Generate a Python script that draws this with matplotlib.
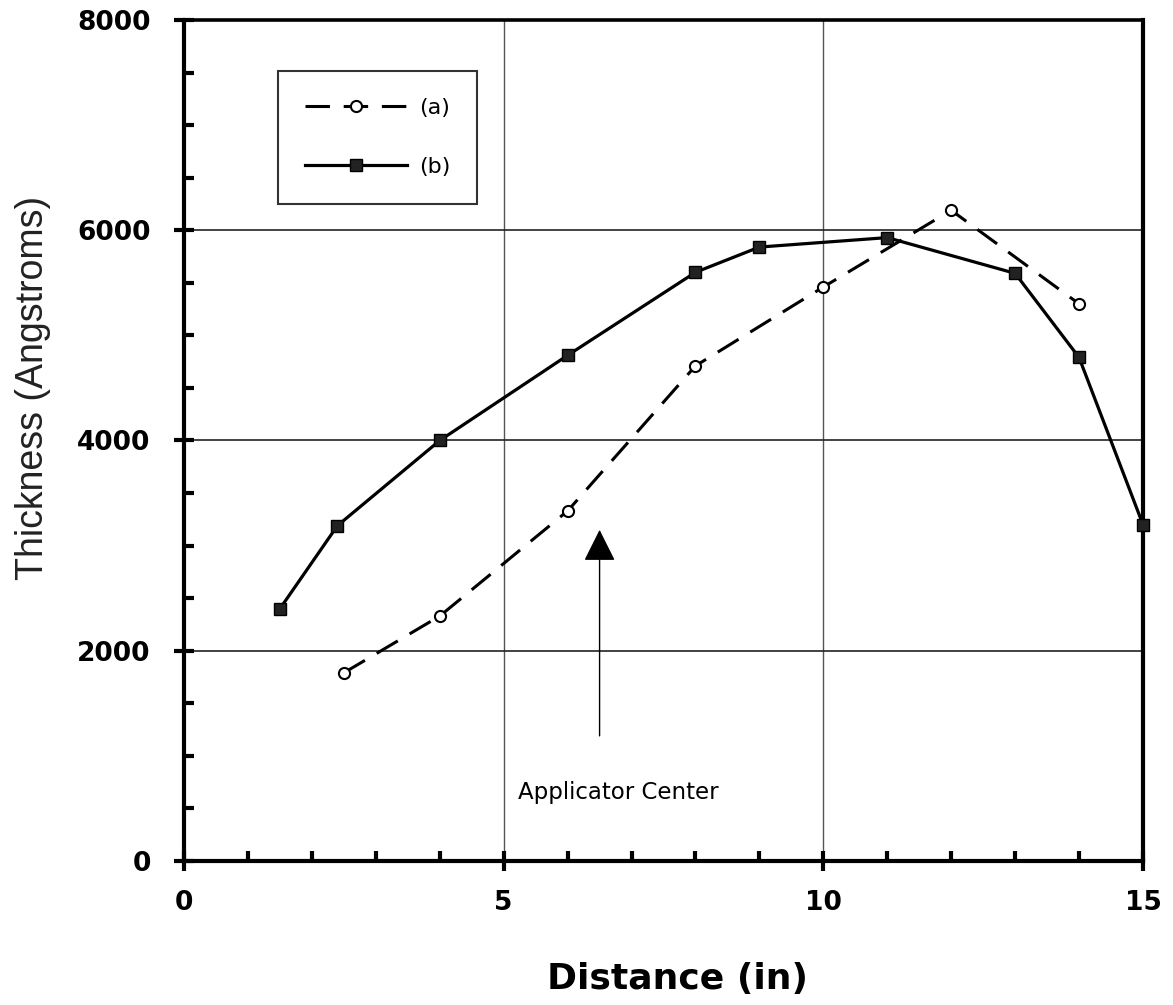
import matplotlib
matplotlib.use("Agg")
import matplotlib.pyplot as plt
from matplotlib.ticker import MultipleLocator


# Data
dist_a = [2.5, 4, 6, 8, 10, 12, 14]
thick_a = [1790, 2330, 3330, 4710, 5460, 6190, 5300]

dist_b = [1.5, 2.4, 4, 6, 8, 9, 11, 13, 14, 15]
thick_b = [2400, 3190, 4000, 4810, 5600, 5840, 5930, 5590, 4790, 3200]

x_ticks = [0, 5, 10, 15]
y_ticks = [0, 2000, 4000, 6000, 8000]

# applicator center marker
center_x = 6.5
arrow_tip = 3150
arrow_tail = 1190


fig = plt.figure(figsize=(11.73, 10.05), dpi=100)
ax = fig.add_axes([0.1569, 0.1433, 0.8175, 0.8368])

ax.set_xlim(0, 15)
ax.set_ylim(0, 8000)

# grid lines
for gx in x_ticks[1:-1]:
    ax.axvline(gx, color="#555555", lw=1.0, zorder=1)
for gy in y_ticks[1:-1]:
    ax.axhline(gy, color="#222222", lw=1.2, zorder=1)

ax.plot(dist_a, thick_a, color="black", lw=2.2, linestyle=(0, (8, 4.5)),
        marker="o", markersize=8, markerfacecolor="white", markeredgecolor="black",
        markeredgewidth=1.5, label="(a)", zorder=3)
ax.plot(dist_b, thick_b, color="black", lw=2.3, linestyle="-",
        marker="s", markersize=9, markerfacecolor="#222222", markeredgecolor="black",
        label="(b)", zorder=4, clip_on=False)

# applicator center arrow
ax.annotate("", xy=(center_x, arrow_tip), xytext=(center_x, arrow_tail),
            arrowprops=dict(arrowstyle="-|>,head_length=1.0,head_width=0.5",
                            color="black", lw=1.0, mutation_scale=20,
                            shrinkA=0, shrinkB=0), zorder=3)
ax.text(center_x + 0.3, 648, "Applicator Center", fontsize=16.5, ha="center",
        va="center", family="DejaVu Sans")

# spines and ticks
for s in ax.spines.values():
    s.set_linewidth(3.0)
    s.set_color("black")
ax.spines["top"].set_linewidth(2.6)

ax.set_xticks(x_ticks)
ax.set_yticks(y_ticks)
ax.xaxis.set_minor_locator(MultipleLocator(1))
ax.yaxis.set_minor_locator(MultipleLocator(500))
ax.tick_params(which="major", direction="inout", length=14, width=3)
ax.tick_params(which="minor", direction="in", length=7, width=3)
ax.tick_params(axis="x", which="major", pad=14)
ax.tick_params(axis="y", which="major", pad=17)
for lab in ax.get_xticklabels() + ax.get_yticklabels():
    lab.set_fontsize(19)
    lab.set_fontweight("bold")
    lab.set_family("DejaVu Sans")

ax.set_xlabel("Distance (in)", fontsize=26, fontweight="bold",
              family="DejaVu Sans")
ax.xaxis.set_label_coords(0.515, -0.12)
fig.text(0.028, 0.614, "Thickness (Angstroms)", rotation=90, fontsize=27,
         ha="center", va="center", color="#222222", family="Liberation Sans")

leg = ax.legend(loc="upper left", bbox_to_anchor=(0.098, 0.939), frameon=True,
                fancybox=False, edgecolor="black", fontsize=16,
                handlelength=4.6, numpoints=1, borderpad=1.2, labelspacing=1.75,
                handletextpad=0.55, borderaxespad=0)
leg.get_frame().set_linewidth(1.5)
for t in leg.get_texts():
    t.set_family("DejaVu Sans")

fig.savefig("out.png", dpi=100, facecolor="white")
